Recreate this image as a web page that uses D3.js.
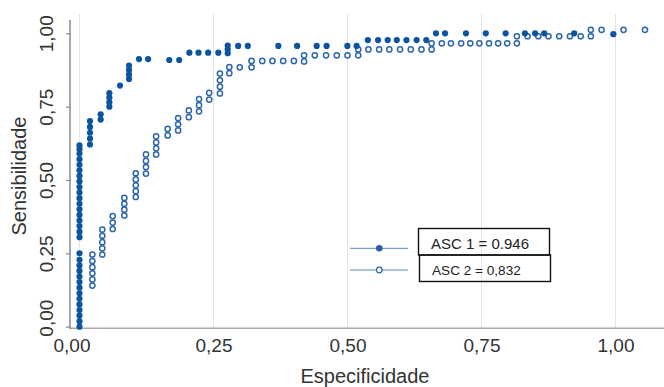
<!DOCTYPE html>
<html>
<head>
<meta charset="utf-8">
<script src="https://cdn.jsdelivr.net/npm/d3@7"></script>
<style>
  body { margin: 0; background: #fff; }
  svg { display: block; font-family: "Liberation Sans", Arial, sans-serif; }
</style>
</head>
<body>
<svg id="chart"></svg>
<script>
// axis ticks
const tickValues = [0, 0.25, 0.5, 0.75, 1];
const tickLabels = ["0,00", "0,25", "0,50", "0,75", "1,00"];
const legendLabels = ["ASC 1 = 0.946", "ASC 2 = 0,832"];

// curve 1 (filled markers): [1 - spec, sens]
const asc1 = [
  [0, 0], [0, 0.019], [0, 0.038], [0, 0.057], [0, 0.076], [0, 0.095], [0, 0.114], [0, 0.133],
  [0, 0.152], [0, 0.171], [0, 0.19], [0, 0.209], [0, 0.228], [0, 0.25],
  [0, 0.305], [0, 0.324], [0, 0.343], [0, 0.362], [0, 0.381], [0, 0.4], [0, 0.419], [0, 0.438],
  [0, 0.457], [0, 0.476], [0, 0.495], [0, 0.514], [0, 0.533], [0, 0.552], [0, 0.571], [0, 0.59],
  [0, 0.605], [0, 0.618],
  [0.0196, 0.621], [0.0196, 0.641], [0.0196, 0.661], [0.0196, 0.681], [0.0196, 0.701],
  [0.0395, 0.706], [0.0395, 0.724],
  [0.0557, 0.75], [0.0557, 0.765], [0.0557, 0.781], [0.0557, 0.796],
  [0.0756, 0.822],
  [0.0924, 0.844], [0.0924, 0.859], [0.0924, 0.875], [0.0924, 0.89],
  [0.111, 0.912], [0.128, 0.912], [0.1675, 0.909], [0.186, 0.909],
  [0.205, 0.934], [0.222, 0.934], [0.24, 0.934], [0.259, 0.934],
  [0.2765, 0.932], [0.2765, 0.945], [0.2765, 0.958],
  [0.296, 0.957], [0.314, 0.957], [0.371, 0.957], [0.406, 0.957], [0.4425, 0.957], [0.461, 0.957],
  [0.4997, 0.957], [0.517, 0.957],
  [0.538, 0.977], [0.557, 0.977], [0.575, 0.977], [0.592, 0.977], [0.61, 0.977], [0.629, 0.977], [0.647, 0.977],
  [0.665, 1], [0.682, 1], [0.721, 1], [0.758, 1], [0.795, 1], [0.831, 1], [0.85, 1], [0.867, 1],
  [0.923, 1], [0.996, 0.997]
];

// curve 2 (open markers)
const asc2 = [
  [0.024, 0.14], [0.024, 0.161], [0.024, 0.182], [0.024, 0.203], [0.024, 0.224], [0.024, 0.246],
  [0.0425, 0.246], [0.0425, 0.267], [0.0425, 0.288], [0.0425, 0.31], [0.0425, 0.331],
  [0.062, 0.333], [0.062, 0.355], [0.062, 0.377],
  [0.0836, 0.379], [0.0836, 0.399], [0.0836, 0.419], [0.0836, 0.439],
  [0.105, 0.442], [0.105, 0.462], [0.105, 0.482], [0.105, 0.502], [0.105, 0.523],
  [0.124, 0.522], [0.124, 0.544], [0.124, 0.565], [0.124, 0.587],
  [0.143, 0.587], [0.143, 0.608], [0.143, 0.628], [0.143, 0.649],
  [0.1645, 0.652], [0.1645, 0.674],
  [0.184, 0.669], [0.184, 0.69], [0.184, 0.711],
  [0.204, 0.714], [0.204, 0.737],
  [0.223, 0.734], [0.223, 0.755], [0.223, 0.776],
  [0.242, 0.774], [0.242, 0.797],
  [0.262, 0.795], [0.262, 0.818], [0.262, 0.84], [0.262, 0.863],
  [0.2795, 0.864], [0.2795, 0.885],
  [0.299, 0.884],
  [0.321, 0.884], [0.321, 0.906],
  [0.341, 0.906], [0.36, 0.906], [0.38, 0.906], [0.4, 0.906],
  [0.419, 0.904], [0.419, 0.925],
  [0.439, 0.925], [0.46, 0.925], [0.48, 0.925], [0.5, 0.925], [0.52, 0.925], [0.52, 0.945],
  [0.539, 0.945], [0.559, 0.945], [0.578, 0.945], [0.598, 0.945], [0.618, 0.945], [0.638, 0.945],
  [0.657, 0.945], [0.657, 0.966],
  [0.676, 0.966], [0.693, 0.966], [0.712, 0.966], [0.729, 0.966], [0.746, 0.966], [0.764, 0.966],
  [0.781, 0.966], [0.798, 0.966], [0.816, 0.966], [0.816, 0.99],
  [0.836, 0.99], [0.856, 0.99], [0.875, 0.99], [0.895, 0.99], [0.915, 0.99], [0.935, 0.99], [0.954, 0.99],
  [0.954, 1.012], [0.974, 1.012], [1.015, 1.012], [1.055, 1.012]
];

const width = 664, height = 387;
const fillBlue = "#0b54a2", openBlue = "#2c66ae";

const svg = d3.select("#chart").attr("width", width).attr("height", height);

const x = d3.scaleLinear().domain([0, 1]).range([79.5, 615.5]);
const y = d3.scaleLinear().domain([0, 1]).range([326.7, 33.3]);

// vertical grid
svg.append("g")
  .selectAll("line")
  .data(tickValues)
  .join("line")
  .attr("x1", d => x(d)).attr("x2", d => x(d))
  .attr("y1", 14).attr("y2", 328)
  .attr("stroke", "#e4e4e4")
  .attr("stroke-width", 1);

// x axis
const xAxis = svg.append("g")
  .attr("transform", "translate(0,328.3)")
  .call(d3.axisBottom(x).tickValues(tickValues).tickSize(0).tickPadding(0)
    .tickFormat((d, i) => tickLabels[i]));
xAxis.select(".domain").remove();
xAxis.selectAll("text")
  .attr("y", 24)
  .attr("dy", 0)
  .attr("dx", (d, i) => i === 0 ? -8 : 0)
  .attr("fill", "#333")
  .style("font-size", "19px")
  .style("font-family", "Liberation Sans, Arial, sans-serif");
svg.append("line")
  .attr("x1", 70).attr("x2", width)
  .attr("y1", 328.3).attr("y2", 328.3)
  .attr("stroke", "#a8a8a8").attr("stroke-width", 1.5);

// y axis
const yAxis = svg.append("g")
  .attr("transform", "translate(70,0)")
  .call(d3.axisLeft(y).tickValues(tickValues).tickSize(4).tickFormat((d, i) => tickLabels[i]));
yAxis.select(".domain").remove();
yAxis.selectAll(".tick line").attr("stroke", "#8a8a8a").attr("stroke-width", 1.2);
yAxis.selectAll("text")
  .attr("x", 0).attr("dy", 0)
  .attr("text-anchor", "middle")
  .attr("transform", (d, i) => `translate(-17,${i === 0 ? -9 : 0}) rotate(-90)`)
  .attr("fill", "#333")
  .style("font-size", "19px")
  .style("font-family", "Liberation Sans, Arial, sans-serif");
svg.append("line")
  .attr("x1", 70).attr("x2", 70)
  .attr("y1", 20).attr("y2", 329)
  .attr("stroke", "#8a8a8a").attr("stroke-width", 1.5);

// axis titles
svg.append("text")
  .attr("x", 365).attr("y", 383)
  .attr("text-anchor", "middle")
  .attr("fill", "#333")
  .style("font-size", "20px")
  .text("Especificidade");
svg.append("text")
  .attr("transform", "translate(26,176) rotate(-90)")
  .attr("text-anchor", "middle")
  .attr("fill", "#333")
  .style("font-size", "20px")
  .text("Sensibilidade");

// points
svg.append("g")
  .selectAll("circle")
  .data(asc2)
  .join("circle")
  .attr("cx", d => x(d[0]))
  .attr("cy", d => y(d[1]))
  .attr("r", 2.6)
  .attr("fill", "#fff")
  .attr("stroke", openBlue)
  .attr("stroke-width", 1.5);

svg.append("g")
  .selectAll("circle")
  .data(asc1)
  .join("circle")
  .attr("cx", d => x(d[0]))
  .attr("cy", d => y(d[1]))
  .attr("r", 3.1)
  .attr("fill", fillBlue);

// legend
const legend = svg.append("g");
[248.3, 270].forEach(ly => {
  legend.append("line")
    .attr("x1", 350).attr("x2", 408)
    .attr("y1", ly).attr("y2", ly)
    .attr("stroke", "#5b86bd").attr("stroke-width", 1);
});
legend.append("circle").attr("cx", 379.3).attr("cy", 248.3).attr("r", 3.3).attr("fill", "#285fa8");
legend.append("circle").attr("cx", 379.3).attr("cy", 270).attr("r", 2.8)
  .attr("fill", "#fff").attr("stroke", openBlue).attr("stroke-width", 1.2);

legend.append("rect")
  .attr("x", 418.5).attr("y", 228.5).attr("width", 131).attr("height", 26.5)
  .attr("fill", "none").attr("stroke", "#111").attr("stroke-width", 1.4);
legend.append("rect")
  .attr("x", 419.5).attr("y", 255).attr("width", 131).attr("height", 26.5)
  .attr("fill", "none").attr("stroke", "#111").attr("stroke-width", 1.4);
legend.append("text")
  .attr("x", 431).attr("y", 249.3)
  .attr("fill", "#222")
  .style("font-size", "15px")
  .text(legendLabels[0]);
legend.append("text")
  .attr("x", 432).attr("y", 275)
  .attr("fill", "#222")
  .style("font-size", "13.6px")
  .text(legendLabels[1]);
</script>
</body>
</html>
